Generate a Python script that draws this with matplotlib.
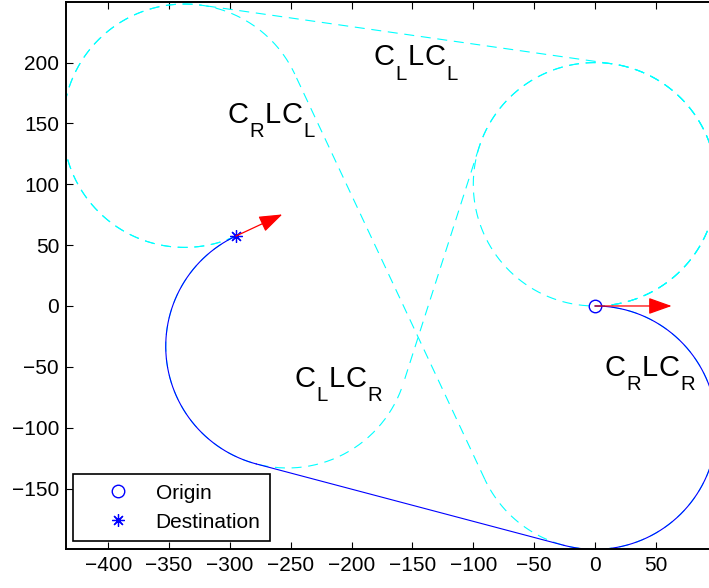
import numpy as np
import matplotlib
matplotlib.use("Agg")
import matplotlib.pyplot as plt

# Poses and turning radius
turn_radius = 100.0
origin_xy = (0.0, 0.0)
origin_heading_deg = 0.0
dest_xy = (-295.0, 57.5)
dest_heading_deg = 25.0

# Heading arrows (length in data units)
origin_arrow_len = 63.0
dest_arrow_len = 42.0

# Candidate CSC paths: first turn, straight, last turn
dashed_words = ["LSL", "RSL", "LSR"]
solid_word = "RSR"

# Path names (turn, line, turn) and where they are written
label_parts = [("L", "L"), ("R", "L"), ("L", "R"), ("R", "R")]
label_x = [-182.0, -302.0, -247.0, 8.0]
label_y = [198.0, 150.5, -66.5, -57.5]

x_ticks = [-400, -350, -300, -250, -200, -150, -100, -50, 0, 50]
y_ticks = [-150, -100, -50, 0, 50, 100, 150, 200]

plt.rcParams["font.family"] = ["Liberation Sans", "DejaVu Sans"]

CYAN = (0, 1, 1)
BLUE = (0, 0, 1)
DASH = (0, (9, 6))


def side(c):
    return 1.0 if c == "L" else -1.0


def turn_center(p, h, s):
    return np.array([p[0] - s * turn_radius * np.sin(h),
                     p[1] + s * turn_radius * np.cos(h)])


def arc(c, a0, a1, s, n=240):
    sweep = ((a1 - a0) * s) % (2 * np.pi)
    t = np.linspace(a0, a0 + s * sweep, n)
    return np.column_stack([c[0] + turn_radius * np.cos(t),
                            c[1] + turn_radius * np.sin(t)])


def csc_segments(word):
    """First arc (from the origin), straight leg, last arc (traced back
    from the destination)."""
    s0, s1 = side(word[0]), side(word[2])
    h0 = np.radians(origin_heading_deg)
    h1 = np.radians(dest_heading_deg)
    p0 = np.array(origin_xy)
    p1 = np.array(dest_xy)
    c0 = turn_center(p0, h0, s0)
    c1 = turn_center(p1, h1, s1)
    d = c1 - c0
    k = turn_radius * (s1 - s0)
    run = np.sqrt(d @ d - k * k)
    phi = np.arctan2(d[1], d[0]) - np.arctan2(k, run)
    left = np.array([-np.sin(phi), np.cos(phi)])
    pa = c0 - turn_radius * s0 * left
    pb = c1 - turn_radius * s1 * left

    def ang(p, c):
        return np.arctan2(p[1] - c[1], p[0] - c[0])

    first = arc(c0, ang(p0, c0), ang(pa, c0), s0)
    last = arc(c1, ang(pb, c1), ang(p1, c1), s1)[::-1]
    line = np.vstack([pa, pb])
    return [first, line, last]


fig = plt.figure(figsize=(7.09, 5.88), dpi=100)
ax_left, ax_bottom = 66 / 709, 39 / 588
ax_h = 547 / 588
x_lo, x_hi = -434.7, 100.0
y_lo, y_hi = -199.7, 249.8
px_per_unit = 547 / (y_hi - y_lo)
ax_w = (x_hi - x_lo) * px_per_unit / 709
ax = fig.add_axes([ax_left, ax_bottom, ax_w, ax_h])

# Full left-turn circle at the start, traced from the origin
h_start = np.radians(origin_heading_deg)
c_left = turn_center(np.array(origin_xy), h_start, 1.0)
a_start = np.arctan2(origin_xy[1] - c_left[1], origin_xy[0] - c_left[0])
t = np.linspace(a_start, a_start + 2 * np.pi, 600)
ax.plot(c_left[0] + turn_radius * np.cos(t), c_left[1] + turn_radius * np.sin(t),
        color=CYAN, lw=0.8, linestyle=DASH)

for w in dashed_words:
    for seg in csc_segments(w):
        ax.plot(seg[:, 0], seg[:, 1], color=CYAN, lw=0.8, linestyle=DASH)

for seg in csc_segments(solid_word):
    ax.plot(seg[:, 0], seg[:, 1], color=BLUE, lw=0.8)

for (px, py), hd, ln in [(origin_xy, origin_heading_deg, origin_arrow_len),
                         (dest_xy, dest_heading_deg, dest_arrow_len)]:
    h = np.radians(hd)
    ax.annotate("", xy=(px + ln * np.cos(h), py + ln * np.sin(h)),
                xytext=(px, py),
                arrowprops=dict(arrowstyle="-|>,head_length=0.9,head_width=0.32",
                                color="red", lw=0.9, mutation_scale=16,
                                shrinkA=0, shrinkB=0))

ax.plot([origin_xy[0]], [origin_xy[1]], linestyle="none", marker="o",
        mfc="none", mec=BLUE, ms=9, mew=1.0, label="Origin")
ax.plot([dest_xy[0]], [dest_xy[1]], linestyle="none", marker=(8, 2, 0),
        color=BLUE, ms=9, mew=0.9, label="Destination")

ax.set_xlim(x_lo, x_hi)
ax.set_ylim(y_lo, y_hi)
ax.set_xticks(x_ticks)
ax.set_yticks(y_ticks)
ax.tick_params(direction="in", length=4.8, width=0.8, labelsize=15,
               top=True, right=True, pad=5)
for sp in ax.spines.values():
    sp.set_linewidth(1.4)

leg = ax.legend(loc="lower left", bbox_to_anchor=(73.3 / 709, 47 / 588),
                bbox_transform=fig.transFigure, borderaxespad=0,
                fontsize=15, handlelength=3.4, handletextpad=0.1,
                borderpad=0.45, labelspacing=0.48, fancybox=False,
                framealpha=1, edgecolor="black")
leg.get_frame().set_linewidth(1.2)

# Path names: capital C with a lowered subscript turn letter, then L, C, turn
renderer = fig.canvas.get_renderer()
main_size, sub_size = 21, 14.7
sub_drop_px, gap_px = 14.5, 0.8
for (t0, t1), x, y in zip(label_parts, label_x, label_y):
    pieces = [("C", False), (t0, True), ("L", False), ("C", False), (t1, True)]
    dx = 0.0
    for s, is_sub in pieces:
        txt = ax.annotate(s, xy=(x, y), xycoords="data",
                          xytext=(dx, -sub_drop_px if is_sub else 0.0),
                          textcoords="offset pixels",
                          fontsize=sub_size if is_sub else main_size,
                          ha="left", va="baseline")
        bb = txt.get_window_extent(renderer)
        dx += bb.width + gap_px

fig.savefig("out.png", dpi=100)
